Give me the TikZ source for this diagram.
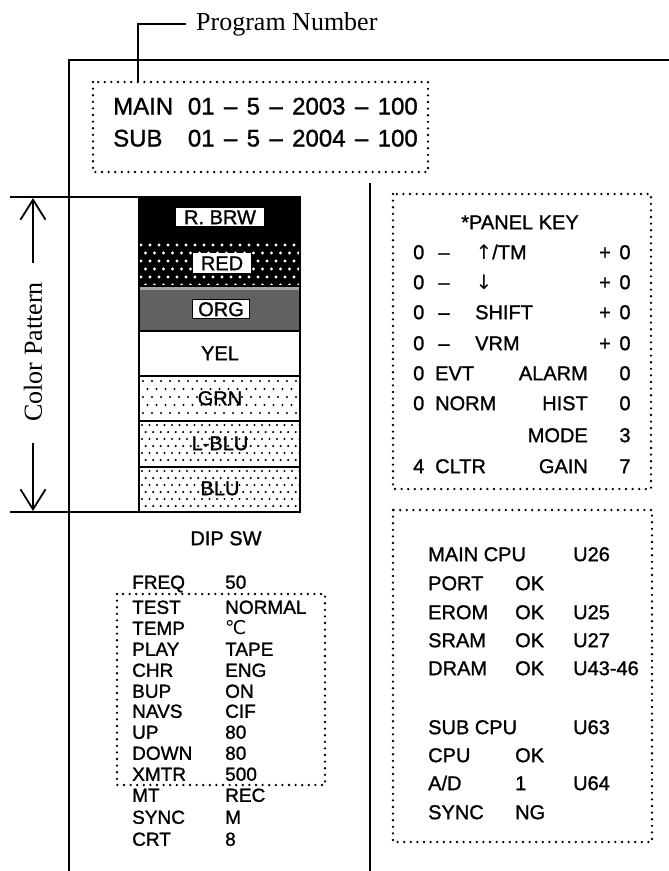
\documentclass[tikz,border=0pt]{standalone}
\usepackage{fontspec}
\setmainfont{Liberation Serif}
\newfontfamily\hvf[FakeBold=1.2]{Liberation Sans}
\newfontfamily\dvf{DejaVu Sans}
\usetikzlibrary{arrows.meta}
\newcommand\nsp{\hspace{9.4pt}}
\begin{document}
\begin{tikzpicture}[x=1pt,y=-1pt,
  frameline/.style={line width=1.8pt},
  dotbox/.style={line width=2.6pt,line cap=round,dash pattern=on 0pt off 6.6pt},
  serifl/.style={font=\fontsize{26}{26}\selectfont,inner sep=0pt},
  topt/.style={font=\hvf\fontsize{24}{24}\selectfont,inner sep=0pt,text height=17pt,text depth=0pt},
  pk/.style={font=\hvf\fontsize{20}{20}\selectfont,inner sep=0pt,text height=14.3pt,text depth=0pt},
  dip/.style={font=\hvf\fontsize{19}{19}\selectfont,inner sep=0pt,text height=13.6pt,text depth=0pt,anchor=west},
  bar/.style={draw,line width=1.4pt},
  barlbl/.style={font=\hvf\fontsize{20}{20}\selectfont,text height=14.3pt,text depth=0pt,inner ysep=2.5pt},
  barb/.style={-{Straight Barb[length=20pt,width=25pt,line width=1.8pt]},line width=1.8pt}
]
\useasboundingbox (0,0) rectangle (669,871);

% frame
\draw[frameline] (669,60) -- (69,60) -- (69,871);
\draw[frameline] (370,183) -- (370,871);

% program number
\node[serifl,anchor=west] (prog) at (196,24) {Program Number};
\coordinate (lc) at (138,24);
\coordinate (lb) at (138,82);
\draw[line width=1.6pt] (prog.west) ++(-10,0) -- (lc) -- (lb);
\draw[dotbox] (93,82) rectangle (428,172);
\node[topt,anchor=west] (mainl) at (113,106) {MAIN};
\node[topt,anchor=east] (mainn) at (418,106) {01\nsp–\nsp5\nsp–\nsp2003\nsp–\nsp100};
\node[topt,anchor=west] (subl) at (113,138) {SUB};
\node[topt,anchor=east] (subn) at (418,138) {01\nsp–\nsp5\nsp–\nsp2004\nsp–\nsp100};

% color bars
\fill[black] (139,197) rectangle (300,240);
\fill[black] (139,240) rectangle (300,286);
\begin{scope}
\clip (139,240) rectangle (300,286);
\foreach \r in {0,...,5}{\foreach \c in {0,...,18}{
  \fill[white] ({141+\c*9+mod(\r,2)*4.5},{245+\r*8}) circle (1.6pt);}}
\end{scope}
\fill[black!62] (139,286) rectangle (300,331);
\fill[black!35] (139,286) rectangle (300,290);
\begin{scope}
\clip (139,376) rectangle (300,421);
\foreach \r in {0,...,5}{\foreach \c in {0,...,18}{
  \fill ({143+\c*9+mod(\r,2)*4.5},{381+\r*8}) circle (1.2pt);}}
\end{scope}
\begin{scope}
\clip (139,421) rectangle (300,467);
\foreach \r in {0,...,6}{\foreach \c in {0,...,22}{
  \fill ({142+\c*7.5+mod(\r,2)*3.7},{425+\r*7}) circle (1.2pt);}}
\end{scope}
\begin{scope}
\clip (139,467) rectangle (300,512);
\foreach \r in {0,...,6}{\foreach \c in {0,...,22}{
  \fill ({142+\c*7.5+mod(\r,2)*3.7},{471+\r*7}) circle (1.2pt);}}
\end{scope}
\foreach \ya/\yb in {197/240,240/286,286/331,331/376,376/421,421/467,467/512}{
  \draw[bar] (139,\ya) rectangle (300,\yb);}

\node[barlbl,fill=white,draw,line width=1pt,inner xsep=9pt] (brw) at (220,217) {R. BRW};
\node[barlbl,fill=white,inner xsep=8pt] (red) at (222,263) {RED};
\node[barlbl,fill=white,draw,line width=1pt,inner xsep=6pt] (org) at (221,309) {ORG};
\node[barlbl] (yel) at (220,353) {YEL};
\node[barlbl] (grn) at (220,398) {GRN};
\node[barlbl] (lblu) at (220,443) {L-BLU};
\node[barlbl] (blu) at (220,488) {BLU};

% color pattern dimension
\coordinate (ctl) at (10,197);
\coordinate (ctr) at (139,197);
\coordinate (cbl) at (10,512);
\coordinate (cbr) at (300,512);
\draw[frameline] (ctl) -- (ctr);
\draw[frameline] (cbl) -- (cbr);
\node[serifl,rotate=90] (cp) at (33,352) {Color Pattern};
\coordinate (upt) at (33,198);
\coordinate (dnt) at (33,511);
\coordinate (ups) at (33,263);
\coordinate (dns) at (33,443);
\draw[barb] (ups) -- (upt);
\draw[barb] (dns) -- (dnt);

% panel key
\draw[dotbox] (393,194) rectangle (651,489);
\node[pk] (pkt) at (520,222) {*PANEL KEY};
\foreach \y/\lab in {252/a,282/b,312/c,343/d}{
  \node[pk,anchor=west] (z\lab) at (413,\y) {0};
  \node[pk] (m\lab) at (444,\y) {–};
  \node[pk] (p\lab) at (605,\y) {+};
  \node[pk] (o\lab) at (625,\y) {0};
}
\node[pk,font=\dvf\fontsize{20}{20}\selectfont] (ua) at (484,252) {↑};
\node[pk,anchor=west] (tm) at (492,252) {/TM};
\node[pk,font=\dvf\fontsize{20}{20}\selectfont] (da) at (484,282) {↓};
\node[pk,anchor=west] (shift) at (475,312) {SHIFT};
\node[pk,anchor=west] (vrm) at (475,343) {VRM};
\node[pk,anchor=west] (z5) at (413,373) {0};
\node[pk,anchor=west] (evt) at (435,373) {EVT};
\node[pk,anchor=east] (alarm) at (588,373) {ALARM};
\node[pk] (o5) at (625,373) {0};
\node[pk,anchor=west] (z6) at (413,403) {0};
\node[pk,anchor=west] (norm) at (435,403) {NORM};
\node[pk,anchor=east] (hist) at (588,403) {HIST};
\node[pk] (o6) at (625,403) {0};
\node[pk,anchor=east] (mode) at (588,435) {MODE};
\node[pk] (o7) at (625,435) {3};
\node[pk,anchor=west] (z8) at (413,466) {4};
\node[pk,anchor=west] (cltr) at (435,466) {CLTR};
\node[pk,anchor=east] (gain) at (588,466) {GAIN};
\node[pk] (o8) at (625,466) {7};

% cpu box
\draw[dotbox] (393,510) rectangle (652,842);
\foreach \y/\a/\b/\c/\n in {554/MAIN CPU//U26/1,583/PORT/OK//2,612/EROM/OK/U25/3,640/SRAM/OK/U27/4,668/DRAM/OK/U43-46/5,727/SUB CPU//U63/6,755/CPU/OK//7,783/{A/D}/1/U64/8,812/SYNC/NG//9}{
  \node[pk,anchor=west] (ca\n) at (428,\y) {\a};
  \node[pk,anchor=west] (cb\n) at (515,\y) {\b};
  \node[pk,anchor=west] (cc\n) at (573,\y) {\c};
}

% dip sw
\node[pk] (dipt) at (226,538) {DIP SW};
\draw[dotbox] (117,594) rectangle (325,785);
\foreach \y/\a/\b/\n in {582/FREQ/50/1,607/TEST/NORMAL/2,628/TEMP/{\dvf ℃}/3,649/PLAY/TAPE/4,670/CHR/ENG/5,691/BUP/ON/6,711/NAVS/CIF/7,732/UP/80/8,753/DOWN/80/9,774/XMTR/500/10,795/MT/REC/11,817/SYNC/M/12,839/CRT/8/13}{
  \node[dip] (da\n) at (132,\y) {\a};
  \node[dip] (db\n) at (225,\y) {\b};
}
\end{tikzpicture}
\end{document}
